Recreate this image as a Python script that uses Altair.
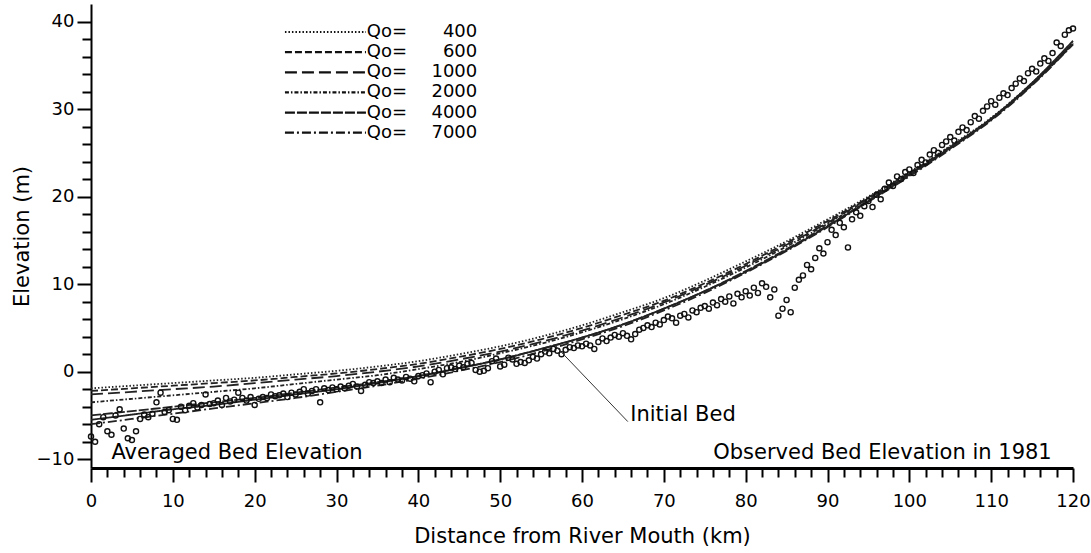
import altair as alt
import pandas as pd

FONT = "DejaVu Sans"

# ---- simulated bed profiles (km, m) ----
line_km = [0, 5, 10, 15, 20, 25, 30, 35, 40, 45, 50, 55, 60, 65, 70, 75, 80, 85, 90, 95, 100, 105, 110, 115, 120]
q400 = [-1.9, -1.6, -1.3, -1.0, -0.7, -0.3, 0.1, 0.6, 1.2, 2.0, 2.9, 4.0, 5.3, 6.8, 8.4, 10.4, 12.6, 14.9, 17.4, 20.0, 22.8, 25.8, 29.0, 33.0, 37.6]
q600 = [-2.2, -1.9, -1.6, -1.3, -1.0, -0.6, -0.2, 0.3, 0.9, 1.7, 2.6, 3.7, 5.0, 6.5, 8.1, 10.1, 12.3, 14.7, 17.2, 19.9, 22.7, 25.7, 28.9, 32.9, 37.5]
q1000 = [-2.6, -2.3, -2.0, -1.7, -1.3, -0.9, -0.5, 0.0, 0.6, 1.4, 2.3, 3.4, 4.7, 6.2, 7.9, 9.9, 12.1, 14.5, 17.0, 19.8, 22.6, 25.6, 28.9, 32.9, 37.5]
q2000 = [-3.5, -3.1, -2.7, -2.3, -1.9, -1.4, -0.9, -0.4, 0.3, 1.1, 2.1, 3.2, 4.5, 6.0, 7.7, 9.7, 11.9, 14.3, 16.9, 19.7, 22.5, 25.6, 28.8, 32.8, 37.5]
q4000 = [-5.0, -4.5, -4.0, -3.5, -3.0, -2.4, -1.8, -1.2, -0.5, 0.4, 1.4, 2.6, 3.9, 5.4, 7.2, 9.2, 11.5, 14.0, 16.7, 19.5, 22.4, 25.5, 28.8, 32.8, 37.4]
q7000 = [-6.0, -5.4, -4.8, -4.2, -3.6, -3.0, -2.3, -1.6, -0.8, 0.1, 1.1, 2.3, 3.7, 5.2, 7.0, 9.0, 11.3, 13.8, 16.5, 19.4, 22.3, 25.4, 28.7, 32.7, 37.4]
initial_bed = [-5.5, -4.9, -4.3, -3.8, -3.2, -2.6, -2.0, -1.3, -0.5, 0.4, 1.4, 2.6, 3.9, 5.4, 7.2, 9.2, 11.4, 13.9, 16.6, 19.5, 22.5, 25.6, 28.9, 33.0, 37.8]

series_names = ["Qo=400", "Qo=600", "Qo=1000", "Qo=2000", "Qo=4000", "Qo=7000", "Initial Bed"]
series_values = [q400, q600, q1000, q2000, q4000, q7000, initial_bed]
dash_range = [[1.5, 2], [7, 3], [12, 5], [4, 2, 1.5, 2], [10, 2], [9, 3, 2, 3], [1, 0]]
width_range = [1.8, 1.8, 1.8, 1.8, 1.8, 1.8, 1.1]

# ---- observed bed elevation 1981, every 0.5 km from 0 to 120 km ----
obs_km = [i * 0.5 for i in range(241)]
obs_elev = [
    -7.4, -8.0, -6.0, -5.2, -6.8, -7.2, -5.0, -4.3, -6.5, -7.6,
    -7.8, -6.8, -5.4, -4.9, -5.2, -4.8, -3.5, -2.4, -4.6, -4.4,
    -5.4, -5.5, -4.0, -4.4, -3.9, -3.6, -4.1, -3.8, -2.6, -3.7,
    -3.6, -3.3, -3.8, -3.0, -3.4, -3.2, -2.4, -3.0, -3.3, -2.9,
    -3.8, -3.1, -2.9, -3.0, -2.6, -2.8, -2.7, -2.5, -2.9, -2.4,
    -2.6, -2.3, -2.0, -2.5, -2.2, -2.0, -3.5, -1.9, -2.1, -1.8,
    -2.0, -1.7, -1.9, -1.6, -1.4, -1.7, -2.2, -1.5, -1.2, -1.3,
    -1.1, -1.3, -0.9, -1.2, -0.7, -0.9, -1.0, -0.6, -0.8, -1.1,
    -0.5, -0.4, -0.2, -1.2, 0.0, 0.2, -0.3, 0.4, 0.5, 0.3,
    0.7, 0.5, 0.9, 1.0, 0.2, 0.0, 0.1, 0.4, 1.2, 1.5,
    0.6, 0.8, 1.6, 1.4, 0.9, 1.1, 1.0, 1.3, 1.7, 1.5,
    2.0, 2.3, 2.1, 2.6, 2.4, 2.0, 2.5, 2.8, 2.7, 3.0,
    2.9, 3.2, 3.0, 2.6, 3.4, 3.8, 3.5, 3.9, 4.2, 4.0,
    4.4, 4.1, 3.7, 4.3, 4.8, 5.0, 5.3, 5.1, 5.6, 5.4,
    5.9, 6.3, 6.1, 5.6, 6.4, 6.6, 6.2, 7.0, 6.8, 7.3,
    7.5, 7.2, 7.9, 7.6, 8.3, 8.0, 8.6, 7.8, 8.9, 8.5,
    9.2, 8.7, 9.6, 9.0, 10.1, 9.7, 8.5, 9.4, 6.4, 7.2,
    8.2, 6.8, 9.6, 10.5, 11.0, 12.2, 11.7, 13.0, 14.1, 13.5,
    14.8, 16.2, 15.6, 17.0, 16.5, 14.2, 17.4, 18.2, 17.8, 18.9,
    19.5, 18.8, 20.2, 19.7, 20.9, 21.6, 21.2, 22.3, 22.0, 22.8,
    23.1, 22.7, 23.6, 24.2, 23.9, 24.8, 25.3, 25.0, 25.9, 26.3,
    26.8, 26.4, 27.4, 27.9, 27.6, 28.5, 29.2, 28.9, 29.8, 30.3,
    30.9, 30.5, 31.3, 31.8, 31.6, 32.4, 32.9, 33.5, 33.2, 34.1,
    34.6, 34.3, 35.2, 35.8, 35.5, 36.4, 37.6, 37.2, 38.5, 39.0,
    39.2,
]

# ---- legend (drawn inside the plot, data units) ----
legend_series = ["Qo=400", "Qo=600", "Qo=1000", "Qo=2000", "Qo=4000", "Qo=7000"]
legend_numbers = ["400", "600", "1000", "2000", "4000", "7000"]
legend_elev = [38.8, 36.5, 34.2, 31.9, 29.6, 27.3]
legend_km_start = 23.7
legend_km_end = 33.6
legend_km_qo = 33.7
legend_km_num = 47.2

# ---- annotations ----
left_texts = ["Averaged Bed Elevation", "Initial Bed"]
left_km = [2.5, 65.9]
left_elev = [-9.3, -5.0]
right_texts = ["Observed Bed Elevation in 1981"]
right_km = [117.4]
right_elev = [-9.3]
leader_km = [56.9, 65.6]
leader_elev = [2.8, -5.7]

# ---------------------------------------------------------------
rows = []
for name, vals in zip(series_names, series_values):
    for k, v in zip(line_km, vals):
        rows.append({"km": k, "elev": v, "series": name})
lines_df = pd.DataFrame(rows)
obs_df = pd.DataFrame({"km": obs_km, "elev": obs_elev})
leg_df = pd.DataFrame({
    "series": legend_series, "num": legend_numbers, "elev": legend_elev,
    "x0": [legend_km_start] * 6, "x1": [legend_km_end] * 6,
    "xq": [legend_km_qo] * 6, "xn": [legend_km_num] * 6,
})
left_df = pd.DataFrame({"text": left_texts, "km": left_km, "elev": left_elev})
right_df = pd.DataFrame({"text": right_texts, "km": right_km, "elev": right_elev})
leader_df = pd.DataFrame({"km": [leader_km[0]], "km2": [leader_km[1]],
                          "elev": [leader_elev[0]], "elev2": [leader_elev[1]]})

xscale = alt.Scale(domain=[0, 120], nice=False, zero=False)
yscale = alt.Scale(domain=[-11, 42], nice=False, zero=False)

x_axis = alt.Axis(
    values=list(range(0, 121, 2)), tickCount=200, format="d",
    labelExpr="datum.value % 10 === 0 ? datum.label : ''",
    tickSize={"condition": {"test": "datum.value % 10 === 0", "value": 14}, "value": 9},
    tickWidth=2, tickColor="black", domainWidth=3, domainColor="black",
    labelFont=FONT, labelFontSize=18, labelColor="black", labelPadding=10,
    labelFlush=False, labelOverlap=False, labelBound=False,
    title="Distance from River Mouth (km)", titleFont=FONT, titleFontSize=21,
    titleFontWeight="normal", titleColor="black", titlePadding=15, grid=False,
)
y_axis = alt.Axis(
    values=list(range(-10, 41, 2)), tickCount=200, format="d",
    labelExpr="datum.value % 10 === 0 ? datum.label : ''",
    tickSize={"condition": {"test": "datum.value % 10 === 0", "value": 14}, "value": 9},
    tickWidth=2, tickColor="black", domainWidth=2, domainColor="black",
    labelFont=FONT, labelFontSize=18, labelColor="black", labelPadding=3,
    labelFlush=False, labelOverlap=False, labelBound=False,
    title="Elevation (m)", titleFont=FONT, titleFontSize=21,
    titleFontWeight="normal", titleColor="black", titlePadding=4, grid=False,
)

dash_scale = alt.Scale(domain=series_names, range=dash_range)

lines = alt.Chart(lines_df).mark_line(color="#222222", interpolate="monotone").encode(
    x=alt.X("km:Q", scale=xscale, axis=x_axis),
    y=alt.Y("elev:Q", scale=yscale, axis=y_axis),
    detail="series:N",
    strokeDash=alt.StrokeDash("series:N", scale=dash_scale, legend=None),
    strokeWidth=alt.StrokeWidth("series:N", scale=alt.Scale(domain=series_names, range=width_range), legend=None),
)

points = alt.Chart(obs_df).mark_point(shape="circle", filled=False, color="#111111",
                                      size=26, strokeWidth=1.4, opacity=1).encode(
    x=alt.X("km:Q", scale=xscale),
    y=alt.Y("elev:Q", scale=yscale),
)

leg_lines = alt.Chart(leg_df).mark_rule(color="#111111", strokeWidth=2.2).encode(
    x=alt.X("x0:Q", scale=xscale), x2="x1:Q",
    y=alt.Y("elev:Q", scale=yscale),
    strokeDash=alt.StrokeDash("series:N", scale=dash_scale, legend=None),
)
leg_qo = alt.Chart(leg_df).mark_text(align="left", baseline="middle", font=FONT, fontSize=18,
                                     color="black", text="Qo=").encode(
    x=alt.X("xq:Q", scale=xscale), y=alt.Y("elev:Q", scale=yscale),
)
leg_num = alt.Chart(leg_df).mark_text(align="right", baseline="middle", font=FONT, fontSize=18,
                                      color="black").encode(
    x=alt.X("xn:Q", scale=xscale), y=alt.Y("elev:Q", scale=yscale), text="num:N",
)

ann_left = alt.Chart(left_df).mark_text(align="left", baseline="middle", font=FONT, fontSize=21,
                                        color="black").encode(
    x=alt.X("km:Q", scale=xscale), y=alt.Y("elev:Q", scale=yscale), text="text:N",
)
ann_right = alt.Chart(right_df).mark_text(align="right", baseline="middle", font=FONT, fontSize=21,
                                          color="black").encode(
    x=alt.X("km:Q", scale=xscale), y=alt.Y("elev:Q", scale=yscale), text="text:N",
)

leader = alt.Chart(leader_df).mark_rule(color="#333333", strokeWidth=1).encode(
    x=alt.X("km:Q", scale=xscale), x2="km2:Q",
    y=alt.Y("elev:Q", scale=yscale), y2="elev2:Q",
)

chart = alt.layer(lines, points, leg_lines, leg_qo, leg_num, ann_left, ann_right, leader).properties(
    width=982, height=464,
    autosize=alt.AutoSizeParams(type="none"),
    padding={"left": 91, "top": 4, "right": 18, "bottom": 85},
    background="white",
).configure_view(stroke=None)

chart.save("out.html", embed_options={"renderer": "svg", "actions": False})
